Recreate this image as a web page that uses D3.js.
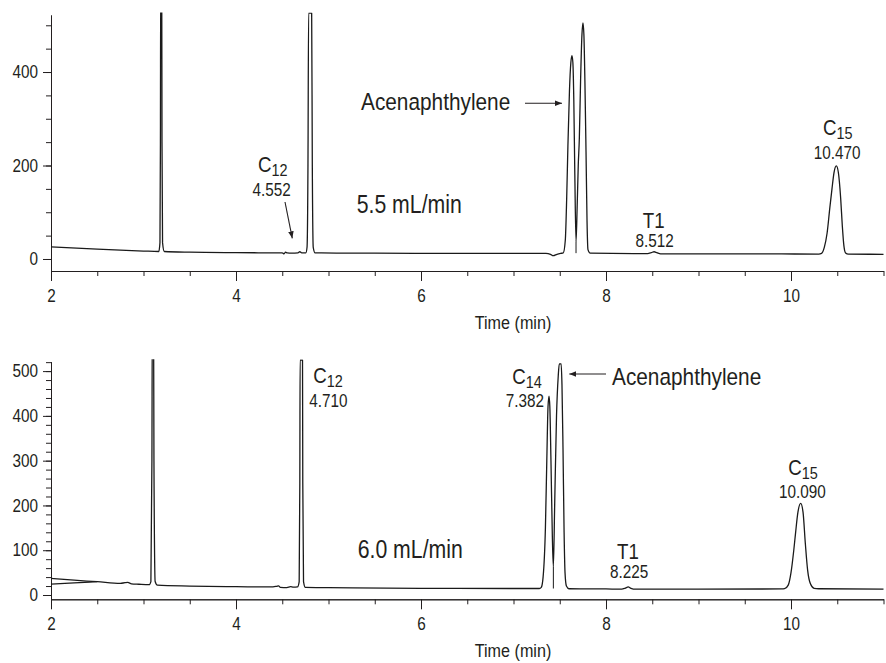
<!DOCTYPE html>
<html>
<head>
<meta charset="utf-8">
<script src="https://cdn.jsdelivr.net/npm/d3@7"></script>
<style>
  body { margin: 0; background: #fff; }
  svg { display: block; }
  text { font-family: "Liberation Sans", Arial, sans-serif; fill: #231f20; }
</style>
</head>
<body>
<svg id="chart" width="886" height="663"></svg>
<script>
// time axis (min)
const timeDomain = [2, 11];
const xMajorTicks = [2, 4, 6, 8, 10];
const xMinorTicks = [2, 2.5, 3, 3.5, 4, 4.5, 5, 5.5, 6, 6.5, 7, 7.5, 8, 8.5, 9, 9.5, 10, 10.5, 11];

const topYMajor = [0, 200, 400];
const topYMinor = [0, 50, 100, 150, 200, 250, 300, 350, 400, 450, 500];
const botYMajor = [0, 100, 200, 300, 400, 500];
const botYMinor = [0, 20, 40, 60, 80, 100, 120, 140, 160, 180, 200, 220, 240, 260, 280, 300,
  320, 340, 360, 380, 400, 420, 440, 460, 480, 500, 520];

// 5.5 mL/min trace: [time, response]
const traceTop = [
  [2.0, 26], [2.5, 21], [3.0, 17], [3.165, 16], [3.178, 35], [3.183, 250], [3.186, 600],
  [3.197, 600], [3.200, 250], [3.206, 35], [3.225, 16], [3.5, 14.5], [4.0, 13.5], [4.5, 13],
  [4.52, 11], [4.535, 14.5], [4.555, 13], [4.60, 12.5], [4.67, 13], [4.69, 15.5], [4.71, 13],
  [4.755, 13], [4.768, 25], [4.778, 200], [4.785, 526], [4.818, 526], [4.825, 200], [4.835, 25],
  [4.855, 13], [5.5, 12.5], [6.5, 12], [7.35, 12], [7.40, 10], [7.43, 7], [7.47, 10], [7.51, 12],
  [7.538, 13], [7.56, 40], [7.575, 130], [7.588, 240], [7.605, 360], [7.62, 420], [7.632, 435],
  [7.642, 420], [7.652, 340], [7.663, 180], [7.676, 37], [7.688, 110], [7.70, 200], [7.712, 260],
  [7.725, 380], [7.74, 480], [7.751, 505], [7.761, 480], [7.772, 380], [7.784, 230], [7.795, 80],
  [7.805, 20], [7.83, 12.5], [8.3, 11.5], [8.45, 11.5], [8.49, 13.5], [8.52, 15.5], [8.55, 13.5],
  [8.59, 11], [9.5, 11], [10.3, 10.5], [10.33, 12], [10.36, 25], [10.39, 55], [10.42, 110],
  [10.443, 150], [10.465, 185], [10.49, 199], [10.512, 185], [10.537, 130], [10.555, 70],
  [10.572, 28], [10.59, 13], [10.62, 10.5], [11.0, 10]
];

// 6.0 mL/min trace
const traceBottom = [
  [2.0, 37], [2.25, 33], [2.5, 29.7], [2.75, 26], [2.8, 27.5], [2.83, 28], [2.87, 25],
  [2.95, 24], [3.06, 23], [3.08, 30], [3.091, 300], [3.095, 600], [3.109, 600], [3.113, 300],
  [3.126, 30], [3.15, 22], [3.5, 20], [4.0, 18.5], [4.40, 18], [4.44, 19.5], [4.46, 20.5],
  [4.48, 17], [4.55, 16.5], [4.59, 18.5], [4.62, 17.5], [4.665, 18], [4.683, 30], [4.690, 250],
  [4.693, 524.5], [4.719, 524.5], [4.722, 250], [4.730, 30], [4.75, 17], [5.0, 16.5], [6.0, 15],
  [7.0, 14.5], [7.28, 14.5], [7.30, 17], [7.32, 40], [7.345, 150], [7.36, 300], [7.373, 420],
  [7.384, 444], [7.393, 420], [7.405, 300], [7.42, 130], [7.431, 63], [7.445, 200], [7.465, 400],
  [7.484, 490], [7.495, 516], [7.515, 516], [7.524, 470], [7.535, 330], [7.547, 140], [7.557, 50],
  [7.572, 20], [7.60, 14], [8.0, 13.5], [8.17, 13], [8.21, 15.5], [8.24, 18], [8.27, 15],
  [8.32, 13], [9.0, 13], [9.90, 13.5], [9.93, 14], [9.97, 22], [10.0, 50], [10.03, 100],
  [10.05, 140], [10.075, 185], [10.105, 204.6], [10.13, 185], [10.155, 115], [10.18, 55],
  [10.21, 25], [10.25, 15], [10.3, 14], [11.0, 13]
];
// second trace start visible at the left of the lower panel
const traceBottomStart = [[2.0, 24.5], [2.25, 27], [2.5, 29.7]];

// integration drop lines: [time, valley response, baseline response]
const dropTop = [[7.676, 37, 12.5]];
const dropBottom = [[7.431, 63, 14.5]];

// the original uses a condensed face; squeeze Liberation Sans horizontally
const SQ = 0.85;

const svg = d3.select('#chart');

const x = d3.scaleLinear().domain(timeDomain).range([51, 883.5]);

function drawPanel(p) {
  const y = d3.scaleLinear().domain(p.yDomain).range(p.yRange);
  const g = svg.append('g');
  const axisY = p.yRange[0];

  // x axis: minor then major ticks
  g.append('g')
    .attr('transform', `translate(0,${axisY})`)
    .call(d3.axisBottom(x).tickValues(xMinorTicks).tickSize(5).tickSizeOuter(0).tickFormat(''));
  g.append('g')
    .attr('class', 'xmajor')
    .attr('transform', `translate(0,${axisY})`)
    .call(d3.axisBottom(x).tickValues(xMajorTicks).tickSize(10).tickSizeOuter(0).tickPadding(8).tickFormat(d3.format('d')));

  // y axis
  g.append('g')
    .attr('transform', 'translate(51,0)')
    .call(d3.axisLeft(y).tickValues(p.yMinor).tickSize(5).tickSizeOuter(0).tickFormat(''));
  g.append('g')
    .attr('class', 'ymajor')
    .attr('transform', 'translate(51,0)')
    .call(d3.axisLeft(y).tickValues(p.yMajor).tickSize(8).tickSizeOuter(0).tickPadding(5).tickFormat(d3.format('d')));

  g.selectAll('.domain, .tick line').attr('stroke', '#231f20').attr('stroke-width', 1);
  g.selectAll('.tick text').attr('font-size', '18px').attr('fill', '#231f20')
    .style('font-family', '"Liberation Sans", Arial, sans-serif')
    .attr('transform', `scale(${SQ},1)`);
  g.selectAll('.ymajor .tick text').attr('x', -13 / SQ);

  g.append('text')
    .attr('transform', `translate(513,${p.labelY}) scale(${SQ},1)`)
    .attr('text-anchor', 'middle')
    .attr('font-size', '19px')
    .text('Time (min)');

  // clip so off-scale peaks stop at the top of the plot
  const clipId = 'clip' + p.id;
  svg.append('clipPath').attr('id', clipId)
    .append('rect')
    .attr('x', 51).attr('y', p.yRange[1] - 2.5)
    .attr('width', 835).attr('height', axisY - p.yRange[1] + 2.5);

  const line = d3.line()
    .x(d => x(d[0]))
    .y(d => y(d[1]))
    .curve(d3.curveMonotoneX);

  const traces = g.append('g').attr('clip-path', `url(#${clipId})`);
  p.traces.forEach(t => {
    traces.append('path')
      .datum(t)
      .attr('fill', 'none')
      .attr('stroke', '#1a1a1a')
      .attr('stroke-width', 1.3)
      .attr('stroke-linejoin', 'round')
      .attr('d', line);
  });

  p.drops.forEach(d => {
    g.append('line')
      .attr('x1', x(d[0])).attr('x2', x(d[0]))
      .attr('y1', y(d[1])).attr('y2', y(d[2]))
      .attr('stroke', '#1a1a1a').attr('stroke-width', 1);
  });
}

drawPanel({
  id: 'top', traces: [traceTop], drops: dropTop,
  yDomain: [-25.7, 522], yRange: [271, 15],
  yMajor: topYMajor, yMinor: topYMinor, labelY: 329
});
drawPanel({
  id: 'bot', traces: [traceBottom, traceBottomStart], drops: dropBottom,
  yDomain: [-9.6, 521], yRange: [599.3, 361.7],
  yMajor: botYMajor, yMinor: botYMinor, labelY: 657
});

// arrow head
svg.append('defs').append('marker')
  .attr('id', 'head')
  .attr('viewBox', '0 0 10 10')
  .attr('refX', 10).attr('refY', 5)
  .attr('markerWidth', 7).attr('markerHeight', 7)
  .attr('markerUnits', 'userSpaceOnUse')
  .attr('orient', 'auto')
  .append('path').attr('d', 'M0,1L10,5L0,9Z').attr('fill', '#231f20');

function arrow(x1, y1, x2, y2) {
  svg.append('line')
    .attr('x1', x1).attr('y1', y1).attr('x2', x2).attr('y2', y2)
    .attr('stroke', '#231f20').attr('stroke-width', 1.1)
    .attr('marker-end', 'url(#head)');
}

function label(txt, xp, yp, size, anchor) {
  svg.append('text')
    .attr('transform', `translate(${xp},${yp}) scale(${SQ},1)`)
    .attr('font-size', size + 'px')
    .attr('text-anchor', anchor || 'start')
    .text(txt);
}

function compound(base, sub, xp, yp) {
  const t = svg.append('text')
    .attr('transform', `translate(${xp},${yp}) scale(${SQ},1)`)
    .attr('font-size', '22px');
  t.append('tspan').text(base);
  t.append('tspan').attr('dy', 4).attr('font-size', '17px').text(sub);
}

// upper panel annotations
compound('C', '12', 258, 171.7);
label('4.552', 271.5, 196, 18, 'middle');
arrow(285, 202, 292.3, 238.3);
label('Acenaphthylene', 361, 110, 24.5);
arrow(525, 103.3, 562, 103.3);
label('5.5 mL/min', 356.7, 213.3, 25);
label('T1', 653.7, 227.7, 22, 'middle');
label('8.512', 654.7, 246.7, 18, 'middle');
compound('C', '15', 822.9, 135);
label('10.470', 837, 159.3, 18, 'middle');

// lower panel annotations
compound('C', '12', 313.3, 383.3);
label('4.710', 309.3, 406.7, 18);
compound('C', '14', 512.3, 384);
label('7.382', 544, 406.7, 18, 'end');
label('Acenaphthylene', 612, 385, 24.5);
arrow(606, 374, 569.3, 374);
label('6.0 mL/min', 357.7, 558.3, 25);
label('T1', 628, 559.3, 22, 'middle');
label('8.225', 629, 578.3, 18, 'middle');
compound('C', '15', 788.3, 475);
label('10.090', 802.3, 498.3, 18, 'middle');
</script>
</body>
</html>
